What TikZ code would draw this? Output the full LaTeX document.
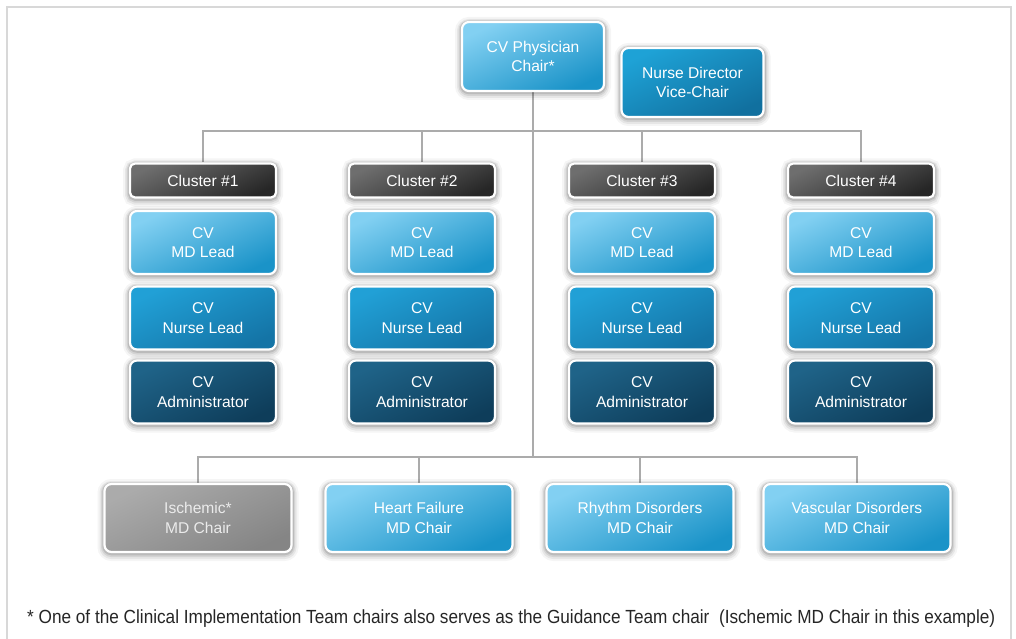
\documentclass[tikz,border=0pt]{standalone}
\usepackage{fontspec}
\setmainfont{Liberation Sans}
\usetikzlibrary{backgrounds}
\definecolor{lbA}{HTML}{82D0F2}
\definecolor{lbB}{HTML}{1A93C8}
\definecolor{mbA}{HTML}{21A0D6}
\definecolor{mbB}{HTML}{1474A6}
\definecolor{dbA}{HTML}{1F6388}
\definecolor{dbB}{HTML}{0E3D5A}
\definecolor{cgA}{HTML}{6E6E6E}
\definecolor{cgB}{HTML}{262626}
\definecolor{ggA}{HTML}{ABABAB}
\definecolor{ggB}{HTML}{858585}
\definecolor{ndA}{HTML}{1EA2D6}
\definecolor{ndB}{HTML}{11709F}
\definecolor{linec}{HTML}{ABABAB}
\definecolor{framec}{HTML}{D8D8D8}
\tikzset{
  box/.style={draw=white, line width=2.2pt, rounded corners=7pt, align=center,
    text=white, font=\fontsize{15.6}{19.5}\selectfont, inner sep=0pt, text depth=0pt,
    preaction={draw=black, opacity=0.04, line width=14pt, transform canvas={yshift=-2pt}},
    preaction={draw=black, opacity=0.06, line width=10pt, transform canvas={yshift=-2pt}},
    preaction={draw=black, opacity=0.08, line width=7pt, transform canvas={yshift=-1.5pt}},
    preaction={draw=black, opacity=0.11, line width=4.5pt, transform canvas={yshift=-1pt}}},
  grad/.style 2 args={top color=#1, bottom color=#2, shading angle=25},
  lightbox/.style={box, grad={lbA}{lbB}, minimum width=146pt, minimum height=63pt},
  nursebox/.style={box, grad={mbA}{mbB}, minimum width=146pt, minimum height=63pt},
  adminbox/.style={box, grad={dbA}{dbB}, minimum width=146pt, minimum height=63pt},
  clusterbox/.style={box, grad={cgA}{cgB}, minimum width=146pt, minimum height=34pt, rounded corners=5pt},
  chairbox/.style={box, grad={lbA}{lbB}, minimum width=187pt, minimum height=68pt},
  isbox/.style={box, grad={ggA}{ggB}, minimum width=187pt, minimum height=68pt},
  topbox/.style={box, minimum width=142pt, minimum height=69pt},
  conn/.style={draw=linec, line width=1.6pt},
}
\begin{document}
\begin{tikzpicture}[x=1pt,y=-1pt]
\useasboundingbox (0,0) rectangle (1016,639);

\node[topbox, grad={lbA}{lbB}] (chair) at (533,56.5) {CV Physician\\Chair*};
\node[topbox, grad={ndA}{ndB}] (nd) at (692.5,82.5) {Nurse Director\\Vice-Chair};

\foreach \i/\x in {1/203,2/422,3/642,4/861}{
  \node[clusterbox] (c\i) at (\x,180.5) {Cluster \#\i};
  \node[lightbox] (md\i) at (\x,242.5) {CV\\MD Lead};
  \node[nursebox] (nl\i) at (\x,318) {CV\\Nurse Lead};
  \node[adminbox] (ad\i) at (\x,392) {CV\\Administrator};
}

\node[isbox, text=white!92!black] (isc) at (198,518) {Ischemic*\\MD Chair};
\node[chairbox] (hf) at (419,518) {Heart Failure\\MD Chair};
\node[chairbox] (rd) at (640,518) {Rhythm Disorders\\MD Chair};
\node[chairbox] (vd) at (857,518) {Vascular Disorders\\MD Chair};

\coordinate (tb) at (533,131);
\coordinate (bb) at (533,457);

\begin{scope}[on background layer]
\fill[white] (0,0) rectangle (1016,639);
\draw[framec, line width=1.5pt] (7,645) -- (7,7) -- (1011,7) -- (1011,645);
\draw[conn] (chair.south) -- (chair.south |- bb);
\draw[conn] (c1.north) -- (c1.north |- tb) -- (c4.north |- tb) -- (c4.north);
\draw[conn] (c2.north) -- (c2.north |- tb);
\draw[conn] (c3.north) -- (c3.north |- tb);
\draw[conn] (isc.north) -- (isc.north |- bb) -- (vd.north |- bb) -- (vd.north);
\draw[conn] (hf.north) -- (hf.north |- bb);
\draw[conn] (rd.north) -- (rd.north |- bb);
\end{scope}

\node[anchor=west, text=black!85, font=\fontsize{19}{22}\selectfont, xscale=0.905, inner sep=0pt] (foot) at (27,619)
  {* One of the Clinical Implementation Team chairs also serves as the Guidance Team chair\ \ (Ischemic MD Chair in this example)};
\end{tikzpicture}
\end{document}
